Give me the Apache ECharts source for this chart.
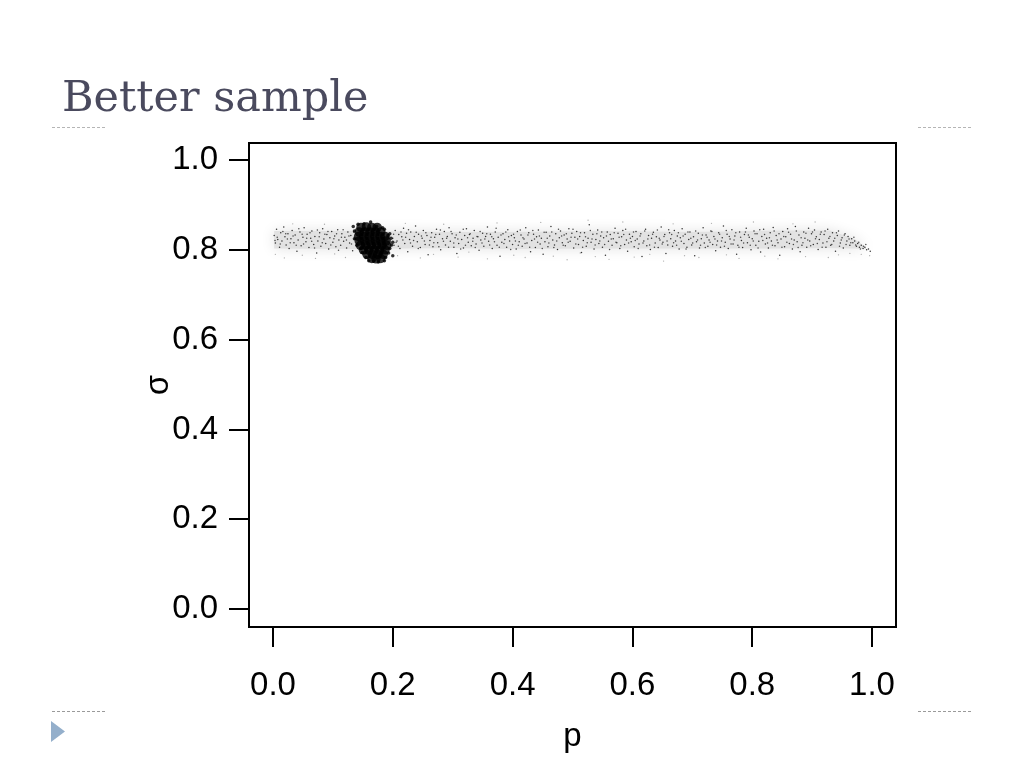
<!DOCTYPE html>
<html>
<head>
<meta charset="utf-8">
<style>html,body{margin:0;padding:0;background:#fff}#c{width:1024px;height:768px}</style>
<script src="https://cdn.jsdelivr.net/npm/echarts@6/dist/echarts.min.js"></script>
</head>
<body>
<div id="c"></div>
<script>
const titleText = "Better sample";
const xTicks = [0, 0.2, 0.4, 0.6, 0.8, 1];
const yTicks = [0, 0.2, 0.4, 0.6, 0.8, 1];
const xName = "p";
const yName = "σ";

// Outline of the denser core of the stipple (p, lower sigma, upper sigma)
const coreP = [0.002, 0.13, 0.3, 0.4, 0.55, 0.7, 0.85, 0.93, 0.97, 0.99];
const coreLow = [0.803, 0.802, 0.804, 0.802, 0.803, 0.803, 0.803, 0.804, 0.803, 0.802];
const coreHigh = [0.842, 0.842, 0.84, 0.84, 0.842, 0.84, 0.843, 0.843, 0.825, 0.806];

// Fine points of the long horizontal band, read by eye
const bandPoints = [
[.002,.832],[.004,.815],[.006,.846],[.008,.823],[.011,.806],[.013,.838],[.015,.82],[.018,.851],[.02,.829],[.022,.811],
[.025,.836],[.027,.803],[.03,.825],[.032,.843],[.035,.816],[.037,.833],[.04,.797],[.042,.822],[.045,.84],[.047,.809],
[.05,.828],[.052,.849],[.055,.818],[.057,.835],[.06,.805],[.063,.826],[.065,.842],[.068,.812],[.07,.83],[.073,.793],
[.075,.82],[.078,.838],[.08,.808],[.083,.847],[.085,.824],[.088,.814],[.09,.834],[.093,.802],[.095,.827],[.098,.841],
[.1,.817],[.103,.831],[.105,.807],[.108,.845],[.11,.822],[.113,.81],[.115,.836],[.118,.819],[.12,.828],[.123,.804],
[.125,.84],[.128,.815],[.13,.832],[.133,.798],[.136,.824],[.2,.826],[.202,.81],[.204,.843],[.207,.82],[.21,.834],
[.212,.803],[.215,.829],[.218,.848],[.22,.814],[.223,.837],[.225,.796],[.228,.823],[.23,.84],[.233,.808],[.236,.83],
[.238,.853],[.241,.818],[.243,.835],[.246,.805],[.249,.826],[.251,.843],[.254,.812],[.257,.832],[.259,.789],[.262,.821],
[.265,.838],[.267,.807],[.27,.828],[.273,.846],[.275,.816],[.278,.835],[.28,.8],[.283,.825],[.286,.841],[.288,.811],
[.291,.83],[.294,.849],[.296,.819],[.299,.836],[.302,.806],[.304,.827],[.307,.792],[.31,.814],[.312,.839],[.315,.823],
[.318,.804],[.32,.832],[.323,.847],[.326,.817],[.328,.834],[.331,.809],[.334,.826],[.336,.843],[.339,.813],[.342,.829],
[.344,.799],[.347,.822],[.35,.837],[.352,.808],[.355,.83],[.358,.851],[.36,.819],[.363,.835],[.366,.803],[.368,.825],
[.371,.84],[.374,.81],[.376,.828],[.379,.786],[.382,.817],[.384,.836],[.387,.823],[.39,.806],[.392,.845],[.395,.82],
[.398,.832],[.4,.812],[.403,.827],[.406,.802],[.408,.841],[.411,.818],[.414,.833],[.416,.808],[.419,.824],[.422,.849],
[.424,.815],[.427,.838],[.43,.796],[.432,.821],[.435,.835],[.438,.805],[.44,.829],[.443,.844],[.446,.813],[.448,.826],
[.451,.79],[.454,.818],[.456,.839],[.459,.807],[.462,.831],[.464,.852],[.467,.822],[.47,.811],[.472,.836],[.475,.801],
[.478,.827],[.48,.842],[.483,.816],[.486,.833],[.488,.809],[.491,.824],[.494,.847],[.496,.819],[.499,.837],[.502,.804],
[.504,.828],[.507,.841],[.51,.812],[.512,.83],[.515,.794],[.518,.821],[.52,.838],[.523,.808],[.526,.826],[.528,.856],
[.531,.817],[.534,.835],[.536,.802],[.539,.823],[.542,.844],[.544,.814],[.547,.831],[.55,.806],[.552,.827],[.555,.788],
[.558,.84],[.56,.819],[.563,.834],[.566,.81],[.568,.825],[.571,.848],[.574,.816],[.576,.837],[.579,.803],[.582,.829],
[.584,.843],[.587,.812],[.59,.822],[.592,.797],[.595,.835],[.598,.818],[.6,.83],[.603,.807],[.606,.841],[.608,.824],
[.611,.813],[.614,.836],[.616,.785],[.619,.82],[.622,.846],[.624,.809],[.627,.832],[.63,.801],[.632,.826],[.635,.839],
[.638,.815],[.64,.829],[.643,.805],[.646,.822],[.648,.851],[.651,.817],[.654,.834],[.656,.792],[.659,.811],[.662,.838],
[.664,.825],[.667,.808],[.67,.843],[.672,.82],[.675,.831],[.678,.802],[.68,.827],[.683,.847],[.686,.814],[.688,.835],
[.691,.806],[.694,.823],[.696,.84],[.699,.811],[.702,.829],[.704,.787],[.707,.818],[.71,.837],[.712,.804],[.715,.825],
[.718,.849],[.72,.815],[.723,.833],[.726,.808],[.728,.822],[.731,.842],[.734,.812],[.736,.83],[.739,.798],[.742,.82],
[.744,.838],[.747,.806],[.75,.827],[.752,.853],[.755,.817],[.758,.835],[.76,.803],[.763,.824],[.766,.845],[.768,.813],
[.771,.831],[.774,.79],[.776,.81],[.779,.84],[.782,.821],[.784,.805],[.787,.834],[.79,.848],[.792,.816],[.795,.828],
[.798,.8],[.8,.825],[.803,.842],[.806,.81],[.808,.836],[.811,.819],[.814,.795],[.816,.83],[.819,.846],[.822,.813],
[.824,.826],[.827,.804],[.83,.838],[.832,.82],[.835,.85],[.838,.809],[.84,.832],[.843,.816],[.846,.788],[.848,.824],
[.851,.841],[.854,.807],[.856,.829],[.859,.847],[.862,.814],[.864,.835],[.867,.802],[.87,.822],[.872,.852],[.875,.818],
[.878,.833],[.88,.796],[.883,.81],[.886,.84],[.888,.826],[.891,.806],[.894,.848],[.896,.82],[.899,.836],[.902,.812],
[.904,.844],[.907,.829],[.91,.801],[.912,.823],[.915,.84],[.918,.815],[.92,.834],[.923,.806],[.926,.846],[.928,.826],
[.931,.81],[.934,.838],[.936,.82],[.939,.797],[.942,.832],[.944,.842],[.947,.815],[.95,.827],[.952,.804],[.955,.836],
[.958,.82],[.96,.83],[.963,.81],[.966,.825],[.968,.816],[.971,.82],[.974,.808],[.976,.814],[.979,.806],[.982,.81],
[.985,.803],[.988,.806],[.991,.8],[.994,.802],[.997,.797]
];

// A second pass over the band, off the first pass's spacing, to break up its rhythm
const bandPointsExtra = [
[.0034,.821],[.0071,.828],[.0122,.813],[.0165,.841],[.0213,.836],[.0241,.824],[.0288,.816],[.0336,.831],[.0388,.81],[.0432,.847],
[.0487,.835],[.0511,.813],[.0563,.826],[.0618,.838],[.0646,.819],[.0694,.804],[.0741,.844],[.0772,.829],[.0823,.816],[.0867,.835],
[.0918,.841],[.0966,.811],[.1017,.825],[.1062,.836],[.1094,.799],[.1143,.828],[.1171,.845],[.1226,.822],[.1268,.831],[.1311,.813],
[.1347,.84],[.2014,.835],[.2056,.817],[.2093,.808],[.2137,.84],[.2169,.822],[.2214,.828],[.2262,.845],[.2296,.815],[.2347,.821],
[.2391,.839],[.2425,.803],[.2478,.831],[.2527,.82],[.2552,.838],[.2611,.811],[.2638,.828],[.2685,.816],[.2717,.834],[.2769,.807],
[.2794,.844],[.2846,.819],[.2899,.826],[.2931,.806],[.2973,.841],[.3018,.815],[.3059,.833],[.3087,.824],[.3134,.802],[.3176,.846],
[.3213,.81],[.3248,.827],[.3292,.836],[.3335,.819],[.3377,.805],[.3406,.83],[.3458,.841],[.3489,.815],[.3537,.824],[.3569,.836],
[.3618,.811],[.3652,.829],[.3697,.818],[.3725,.848],[.3778,.806],[.3806,.833],[.3856,.814],[.3887,.84],[.3934,.829],[.3968,.801],
[.4016,.835],[.4047,.82],[.4095,.81],[.4128,.844],[.4173,.827],[.4208,.814],[.4256,.833],[.4285,.806],[.4337,.843],[.4366,.824],
[.4418,.817],[.4447,.831],[.4495,.803],[.4526,.839],[.4578,.826],[.4606,.815],[.4654,.84],[.4688,.805],[.4737,.82],[.4766,.846],
[.4818,.831],[.4845,.81],[.4897,.836],[.4928,.817],[.4976,.828],[.5008,.846],[.5055,.813],[.5087,.824],[.5134,.838],[.5169,.806],
[.5217,.829],[.5246,.816],[.5297,.843],[.5326,.824],[.5378,.811],[.5407,.836],[.5456,.82],[.5488,.84],[.5536,.812],[.5567,.831],
[.5619,.801],[.5647,.824],[.5696,.838],[.5726,.817],[.5778,.828],[.5805,.809],[.5856,.834],[.5887,.846],[.5937,.815],[.5966,.826],
[.6018,.84],[.6047,.821],[.6097,.803],[.6128,.831],[.6177,.815],[.6206,.842],[.6258,.824],[.6287,.811],[.6337,.835],[.6368,.806],
[.6417,.844],[.6448,.826],[.6497,.813],[.6527,.83],[.6578,.82],[.6606,.845],[.6656,.834],[.6688,.816],[.6738,.81],[.6767,.838],
[.6816,.819],[.6847,.831],[.6896,.802],[.6927,.84],[.6975,.826],[.7006,.815],[.7056,.842],[.7088,.822],[.7137,.81],[.7168,.833],
[.7217,.805],[.7246,.828],[.7296,.817],[.7327,.841],[.7378,.824],[.7406,.811],[.7456,.835],[.7487,.82],[.7536,.808],[.7566,.843],
[.7618,.83],[.7647,.813],[.7697,.822],[.7726,.838],[.7778,.806],[.7806,.828],[.7856,.815],[.7887,.84],[.7936,.833],[.7967,.81],
[.8017,.82],[.8047,.836],[.8097,.804],[.8126,.845],[.8177,.821],[.8206,.834],[.8256,.815],[.8287,.827],[.8337,.81],[.8366,.842],
[.8416,.822],[.8447,.836],[.8496,.806],[.8526,.83],[.8578,.817],[.8607,.839],[.8657,.824],[.8687,.812],[.8736,.842],[.8766,.805],
[.8816,.827],[.8847,.816],[.8897,.837],[.8927,.822],[.8976,.809],[.9006,.84],[.9056,.825],[.9087,.814],[.9137,.835],[.9167,.806],
[.9216,.842],[.9247,.818],[.9297,.83],[.9327,.812],[.9378,.826],[.9406,.838],[.9457,.808],[.9486,.822],[.9537,.833],[.9566,.812],
[.9617,.824],[.9646,.816],[.9697,.828],[.9727,.811],[.9778,.817],[.9806,.802],[.9857,.808],[.9896,.812]
];

// Sparse, faint outliers above and below the band
const bandFaint = [
[.004,.79],[.019,.782],[.033,.858],[.049,.788],[.071,.781],[.086,.857],[.103,.791],[.121,.783],[.208,.787],[.221,.859],
[.246,.782],[.268,.79],[.285,.857],[.309,.784],[.327,.795],[.358,.78],[.374,.86],[.402,.788],[.421,.783],[.447,.861],
[.468,.786],[.491,.778],[.513,.793],[.526,.866],[.538,.785],[.561,.779],[.584,.862],[.603,.784],[.629,.79],[.652,.775],
[.668,.858],[.687,.787],[.711,.783],[.732,.859],[.757,.789],[.778,.781],[.802,.862],[.821,.786],[.843,.78],[.868,.858],
[.889,.785],[.905,.862],[.927,.783],[.944,.789],[.963,.792],[.982,.79],[.996,.787]
];

// Heavy cluster of large points near p = 0.165
const blobPoints = [
[.147,.85],[.156,.851],[.165,.85],[.174,.85],[.144,.84],[.153,.84],[.162,.84],[.171,.84],[.18,.84],
[.143,.83],[.152,.83],[.161,.83],[.17,.83],[.179,.83],[.187,.83],[.144,.82],[.153,.82],[.162,.82],[.171,.82],
[.18,.82],[.189,.82],[.146,.81],[.155,.81],[.164,.81],[.173,.81],[.182,.81],[.19,.81],[.151,.8],[.16,.8],
[.169,.8],[.178,.8],[.187,.8],[.157,.79],[.166,.79],[.175,.79],[.184,.79],[.165,.781],[.172,.78],[.18,.781]
];
const blobSpecks = [
[.142,.857],[.163,.862],[.152,.858],[.173,.852],[.136,.842],[.183,.849],[.192,.832],[.197,.826],[.198,.811],[.195,.803],
[.193,.793],[.2,.787],[.188,.783],[.176,.773],[.168,.775],[.155,.783],[.149,.794],[.14,.81],[.136,.825],[.147,.803],
[.2,.817],[.195,.836],[.186,.846],[.134,.852],[.16,.776],[.186,.776]
];

const chart = echarts.init(document.getElementById('c'), null, { renderer: 'canvas' });
const labelStyle = { color: '#000', fontSize: 33, fontFamily: 'Liberation Sans, Arial, sans-serif' };

function polySeries(ps, lows, highs, fill, blur) {
  const ring = ps.map((p, i) => [p, lows[i]]).concat(ps.map((p, i) => [p, highs[i]]).reverse());
  return {
    type: 'custom', silent: true, z: 1, clip: true,
    data: [[0]],
    encode: { x: [], y: [] },
    renderItem: function (params, api) {
      return {
        type: 'polygon',
        shape: { points: ring.map(r => api.coord(r)) },
        style: { fill: fill, shadowBlur: blur, shadowColor: fill }
      };
    }
  };
}

chart.setOption({
  animation: false,
  backgroundColor: '#ffffff',
  title: {
    text: titleText, left: 57, top: 73,
    textStyle: { color: '#4a4a5e', fontSize: 43, fontWeight: 'normal', fontFamily: 'DejaVu Serif, serif' }
  },
  grid: { left: 249, right: 128, top: 143, bottom: 141, show: true, borderColor: '#000', borderWidth: 2, backgroundColor: 'transparent' },
  xAxis: {
    type: 'value', min: -0.04, max: 1.04,
    name: xName, nameLocation: 'middle', nameGap: 93, nameMoveOverlap: false,
    nameTextStyle: labelStyle,
    splitLine: { show: false }, axisLine: { show: false, onZero: false },
    axisTick: { show: true, length: 20, customValues: xTicks, lineStyle: { color: '#000', width: 2 } },
    axisLabel: { customValues: xTicks, margin: 42, formatter: v => v.toFixed(1), ...labelStyle }
  },
  yAxis: {
    type: 'value', min: -0.04, max: 1.038,
    name: yName, nameLocation: 'middle', nameGap: 74, nameRotate: 90, nameMoveOverlap: false,
    nameTextStyle: labelStyle,
    splitLine: { show: false }, axisLine: { show: false, onZero: false },
    axisTick: { show: true, length: 20, customValues: yTicks, lineStyle: { color: '#000', width: 2 } },
    axisLabel: { customValues: yTicks, margin: 31, padding: [7, 0, 0, 0], formatter: v => v.toFixed(1), ...labelStyle }
  },
  series: [
    polySeries(coreP, coreLow, coreHigh, '#e2e2e2', 14),
    { type: 'scatter', z: 2, data: bandFaint, symbolSize: 1.3, itemStyle: { color: '#777', opacity: 0.6 }, silent: true },
    { type: 'scatter', z: 3, data: bandPoints, symbolSize: 1.5, itemStyle: { color: '#111', opacity: 0.85 }, silent: true },
    { type: 'scatter', z: 3, data: bandPointsExtra, symbolSize: 1.5, itemStyle: { color: '#222', opacity: 0.8 }, silent: true },
    { type: 'scatter', z: 4, data: blobPoints, symbolSize: 9.5, itemStyle: { color: '#000' }, silent: true },
    { type: 'scatter', z: 4, data: blobSpecks, symbolSize: 3.5, itemStyle: { color: '#000' }, silent: true }
  ],
  graphic: [
    { type: 'line', z: 10, shape: { x1: 52, y1: 127.5, x2: 105, y2: 127.5 }, style: { stroke: '#b5b5b5', lineWidth: 1, lineDash: [3, 2] } },
    { type: 'line', z: 10, shape: { x1: 918, y1: 127.5, x2: 972, y2: 127.5 }, style: { stroke: '#b5b5b5', lineWidth: 1, lineDash: [3, 2] } },
    { type: 'line', z: 10, shape: { x1: 52, y1: 711.5, x2: 105, y2: 711.5 }, style: { stroke: '#9a9a9a', lineWidth: 1, lineDash: [3, 2] } },
    { type: 'line', z: 10, shape: { x1: 918, y1: 711.5, x2: 972, y2: 711.5 }, style: { stroke: '#9a9a9a', lineWidth: 1, lineDash: [3, 2] } },
    { type: 'polygon', z: 10, shape: { points: [[51, 721], [65, 731.5], [51, 742]] }, style: { fill: '#94afcb' } }
  ]
});
</script>
</body>
</html>
